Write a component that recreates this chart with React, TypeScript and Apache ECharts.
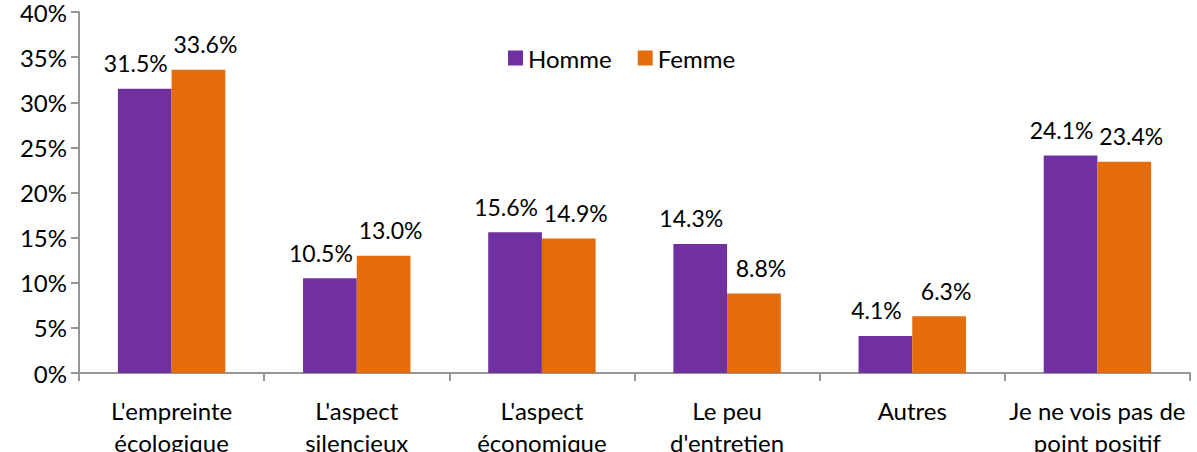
import React, { useEffect, useRef } from "react";
import * as echarts from "echarts";

const categories = [
  "L'empreinte\nécologique",
  "L'aspect\nsilencieux",
  "L'aspect\néconomique",
  "Le peu\nd'entretien",
  "Autres",
  "Je ne vois pas de\npoint positif",
];
const homme = [31.5, 10.5, 15.6, 14.3, 4.1, 24.1];
const femme = [33.6, 13.0, 14.9, 8.8, 6.3, 23.4];
const yTicks = [0, 5, 10, 15, 20, 25, 30, 35, 40];

const FONT = "Lato, 'Noto Sans', sans-serif";
const FS = 24;

export default function App() {
  const ref = useRef<HTMLDivElement>(null);
  useEffect(() => {
    if (!ref.current) return;
    const chart = echarts.init(ref.current, undefined, { renderer: "svg" });
    const labelCfg = (dx: number) => ({
      show: true,
      position: "top" as const,
      distance: 14,
      offset: [dx, 0],
      color: "#000",
      fontSize: 23,
      fontFamily: FONT,
      formatter: (p: any) => Number(p.value).toFixed(1) + "%",
    });
    chart.setOption({
      animation: false,
      textStyle: { fontFamily: FONT },
      legend: {
        top: 41,
        left: 503,
        itemWidth: 15,
        itemHeight: 15,
        itemGap: 26,
        icon: "rect",
        textStyle: { fontSize: FS, color: "#000", fontFamily: FONT },
        data: ["Homme", "Femme"],
      },
      grid: { left: 79, right: 7, top: 12, bottom: 79, containLabel: false, outerBoundsMode: "none" },
      xAxis: {
        type: "category",
        data: categories,
        axisLine: { lineStyle: { color: "#969696", width: 2 } },
        axisTick: { show: true, alignWithLabel: false, length: 8, lineStyle: { color: "#969696", width: 2 } },
        axisLabel: {
          interval: 0,
          fontSize: FS,
          color: "#000",
          fontFamily: FONT,
          margin: 21,
          lineHeight: 32,
        },
      },
      yAxis: {
        type: "value",
        min: yTicks[0],
        max: yTicks[yTicks.length - 1],
        interval: 5,
        axisLine: { show: true, lineStyle: { color: "#969696", width: 2 } },
        axisTick: { show: true, length: 8, lineStyle: { color: "#969696", width: 2 } },
        splitLine: { show: false },
        axisLabel: {
          fontSize: FS,
          color: "#000",
          fontFamily: FONT,
          margin: 12,
          formatter: (v: number) => v + "%",
        },
      },
      series: [
        {
          name: "Homme",
          type: "bar",
          data: homme,
          itemStyle: { color: "#7030A0" },
          barGap: "0%",
          barCategoryGap: "42%",
          label: labelCfg(-9),
        },
        {
          name: "Femme",
          type: "bar",
          data: femme,
          itemStyle: { color: "#E46C0A" },
          barGap: "0%",
          barCategoryGap: "42%",
          label: labelCfg(7),
        },
      ],
    });
    return () => chart.dispose();
  }, []);
  return (
    <div
      ref={ref}
      style={{ position: "absolute", left: 0, top: 0, width: 1197, height: 452, background: "#fff" }}
    />
  );
}
